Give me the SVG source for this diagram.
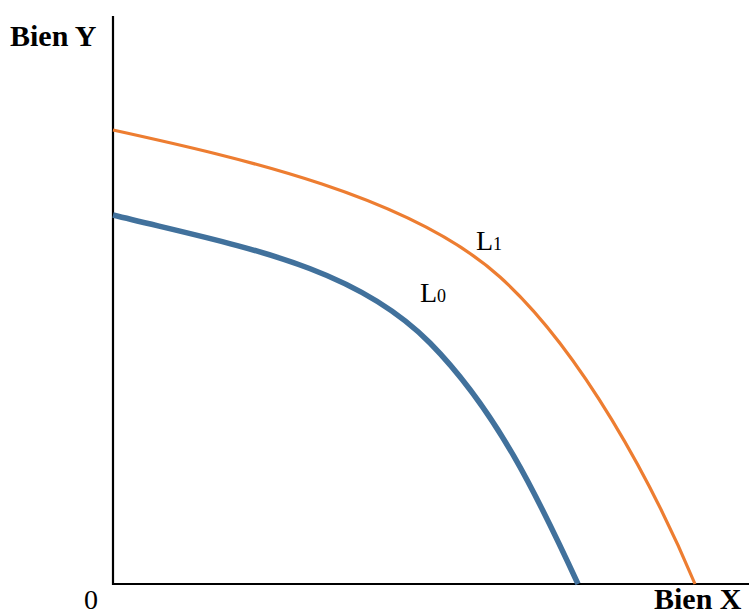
<svg xmlns="http://www.w3.org/2000/svg" width="749" height="615" viewBox="0 0 749 615">
<style>
.ax{stroke:#000;stroke-width:2.2;fill:none}
.lbl{font-family:"Liberation Serif","Times New Roman",serif;fill:#000}
.b{font-weight:bold;font-size:30px}
.r{font-size:28px}
.sub{font-size:18px}
.l0{stroke:#41719C;stroke-width:5.5;fill:none}
.l1{stroke:#ED7D31;stroke-width:3.2;fill:none}
</style>
<rect width="749" height="615" fill="#fff"/>
<g id="axes">
<line class="ax" x1="113" y1="16" x2="113" y2="585"/>
<line class="ax" x1="112" y1="584" x2="749" y2="584"/>
</g>
<g id="curves">
<path id="L1curve" class="l1" d="M113,130 C243,158.6 411.2,196.6 500,277 C581.4,350.7 652.4,482.6 695,584"/>
<path id="L0curve" class="l0" d="M113,215 C239.1,246.2 353,264.9 430,343 C496.5,410.5 538.1,497.5 578,584"/>
</g>
<g id="labels">
<text class="lbl b" x="10" y="46">Bien Y</text>
<text class="lbl b" x="654" y="609">Bien X</text>
<text class="lbl r" x="84" y="609">0</text>
<text class="lbl r" x="476" y="250">L<tspan class="sub">1</tspan></text>
<text class="lbl r" x="420" y="302">L<tspan class="sub">0</tspan></text>
</g>
</svg>
